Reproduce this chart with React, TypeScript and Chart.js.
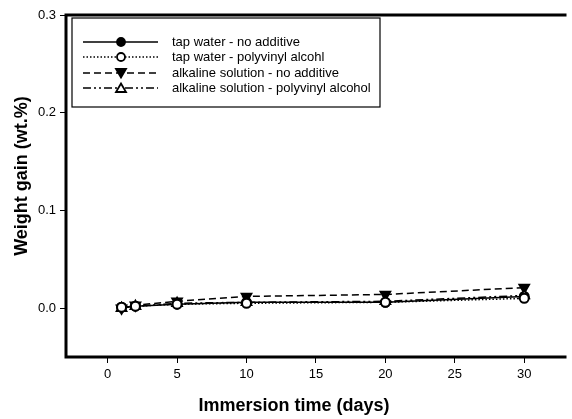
import React, { useEffect, useRef } from "react";
import { Chart, registerables } from "chart.js";

Chart.register(...registerables);

const days = [1, 2, 5, 10, 20, 30];
const tapNoAdditive = [0.001, 0.002, 0.004, 0.006, 0.006, 0.012];
const tapPVA = [0.001, 0.002, 0.004, 0.005, 0.006, 0.010];
const alkNoAdditive = [0.000, 0.003, 0.007, 0.012, 0.014, 0.021];
const alkPVA = [0.000, 0.002, 0.005, 0.006, 0.007, 0.013];

const seriesNames = [
  "tap water - no additive",
  "tap water - polyvinyl alcohl",
  "alkaline solution - no additive",
  "alkaline solution - polyvinyl alcohol",
];
const xTicks = [0, 5, 10, 15, 20, 25, 30];
const yTicks = [0.0, 0.1, 0.2, 0.3];
const xTitle = "Immersion time (days)";
const yTitle = "Weight gain (wt.%)";

const styles = [
  { dash: [] as number[], point: "circle", rot: 0, fill: "#000", r: 4.5 },
  { dash: [1.5, 2], point: "circle", rot: 0, fill: "#fff", r: 4.5 },
  { dash: [7, 4], point: "triangle", rot: 180, fill: "#000", r: 5.5 },
  { dash: [8, 3, 2, 3, 2, 3], point: "triangle", rot: 0, fill: "#fff", r: 5.5 },
];

const FONT = "'Liberation Sans', Arial, Helvetica, sans-serif";

const framePlugin = {
  id: "frame",
  afterDraw(chart: any) {
    const { ctx, chartArea } = chart;
    const { left, top, right, bottom } = chartArea;
    ctx.save();
    ctx.strokeStyle = "#000";
    ctx.lineWidth = 3;
    ctx.setLineDash([]);
    ctx.beginPath();
    ctx.moveTo(right + 2, top);
    ctx.lineTo(left, top);
    ctx.lineTo(left, bottom);
    ctx.lineTo(right + 2, bottom);
    ctx.stroke();

    // legend
    const bx = 72, by = 18, bw = 308, bh = 89;
    ctx.lineWidth = 1.2;
    ctx.fillStyle = "#fff";
    ctx.fillRect(bx, by, bw, bh);
    ctx.strokeRect(bx, by, bw, bh);
    const rows = [42, 57, 73, 88];
    ctx.font = `13px ${FONT}`;
    ctx.textBaseline = "middle";
    ctx.textAlign = "left";
    rows.forEach((ry, i) => {
      const s = styles[i];
      ctx.strokeStyle = "#000";
      ctx.lineWidth = 1.4;
      ctx.setLineDash(s.dash);
      ctx.beginPath();
      ctx.moveTo(83, ry);
      ctx.lineTo(158, ry);
      ctx.stroke();
      ctx.setLineDash([]);
      ctx.lineWidth = 1.8;
      ctx.fillStyle = s.fill;
      ctx.beginPath();
      const mx = 121;
      const r = s.r - 0.5;
      if (s.point === "circle") {
        ctx.arc(mx, ry, r, 0, Math.PI * 2);
      } else if (s.rot === 180) {
        ctx.moveTo(mx - r, ry - r * 0.8);
        ctx.lineTo(mx + r, ry - r * 0.8);
        ctx.lineTo(mx, ry + r * 0.9);
        ctx.closePath();
      } else {
        ctx.moveTo(mx - r, ry + r * 0.8);
        ctx.lineTo(mx + r, ry + r * 0.8);
        ctx.lineTo(mx, ry - r * 0.9);
        ctx.closePath();
      }
      ctx.fill();
      ctx.stroke();
      ctx.fillStyle = "#000";
      ctx.fillText(seriesNames[i], 172, ry);
    });

    // axis titles
    ctx.fillStyle = "#000";
    ctx.font = `bold 18px ${FONT}`;
    ctx.textAlign = "center";
    ctx.textBaseline = "middle";
    ctx.fillText(xTitle, 294, 406);
    ctx.save();
    ctx.translate(22, 176);
    ctx.rotate(-Math.PI / 2);
    ctx.fillText(yTitle, 0, 0);
    ctx.restore();
    ctx.restore();
  },
};

export default function App() {
  const ref = useRef<HTMLCanvasElement | null>(null);
  useEffect(() => {
    if (!ref.current) return;
    const allData = [tapNoAdditive, tapPVA, alkNoAdditive, alkPVA];
    const orders = [3, 0, 2, 1];
    const chart = new Chart(ref.current, {
      type: "line",
      data: {
        datasets: allData.map((vals, i) => ({
          label: seriesNames[i],
          data: days.map((d, j) => ({ x: d, y: vals[j] })),
          borderColor: "#000",
          borderWidth: 1.5,
          borderDash: styles[i].dash,
          pointStyle: styles[i].point as any,
          rotation: styles[i].rot,
          pointRadius: styles[i].r,
          pointBorderWidth: 2,
          pointBackgroundColor: styles[i].fill,
          pointBorderColor: "#000",
          fill: false,
          tension: 0,
          order: orders[i],
        })),
      },
      options: {
        animation: false,
        responsive: false,
        maintainAspectRatio: false,
        devicePixelRatio: 1,
        layout: { padding: { top: 15, right: 0, left: 0, bottom: 0 } },
        plugins: { legend: { display: false }, tooltip: { enabled: false } },
        scales: {
          x: {
            type: "linear",
            min: -3,
            max: 32.9,
            afterBuildTicks: (s: any) => {
              s.ticks = xTicks.map((v) => ({ value: v }));
            },
            afterFit: (s: any) => {
              s.height = 62;
            },
            border: { display: false },
            grid: {
              drawOnChartArea: false,
              drawTicks: true,
              tickLength: 6,
              color: "#000",
              lineWidth: 1,
            },
            ticks: {
              color: "#000",
              font: { family: FONT, size: 13 },
              padding: 4,
              maxRotation: 0,
              callback: (v: any) => String(v),
            },
          },
          y: {
            type: "linear",
            min: -0.05,
            max: 0.3,
            afterBuildTicks: (s: any) => {
              s.ticks = yTicks.map((v) => ({ value: v }));
            },
            afterFit: (s: any) => {
              s.width = 66;
            },
            border: { display: false },
            grid: {
              drawOnChartArea: false,
              drawTicks: true,
              tickLength: 6,
              color: "#000",
              lineWidth: 1,
            },
            ticks: {
              color: "#000",
              font: { family: FONT, size: 13 },
              padding: 4,
              callback: (v: any) => Number(v).toFixed(1),
            },
          },
        },
      },
      plugins: [framePlugin],
    } as any);
    return () => chart.destroy();
  }, []);
  return (
    <div style={{ position: "absolute", left: 0, top: 0, width: 572, height: 419, background: "#fff" }}>
      <canvas ref={ref} width={572} height={419} style={{ display: "block", width: 572, height: 419 }} />
    </div>
  );
}
